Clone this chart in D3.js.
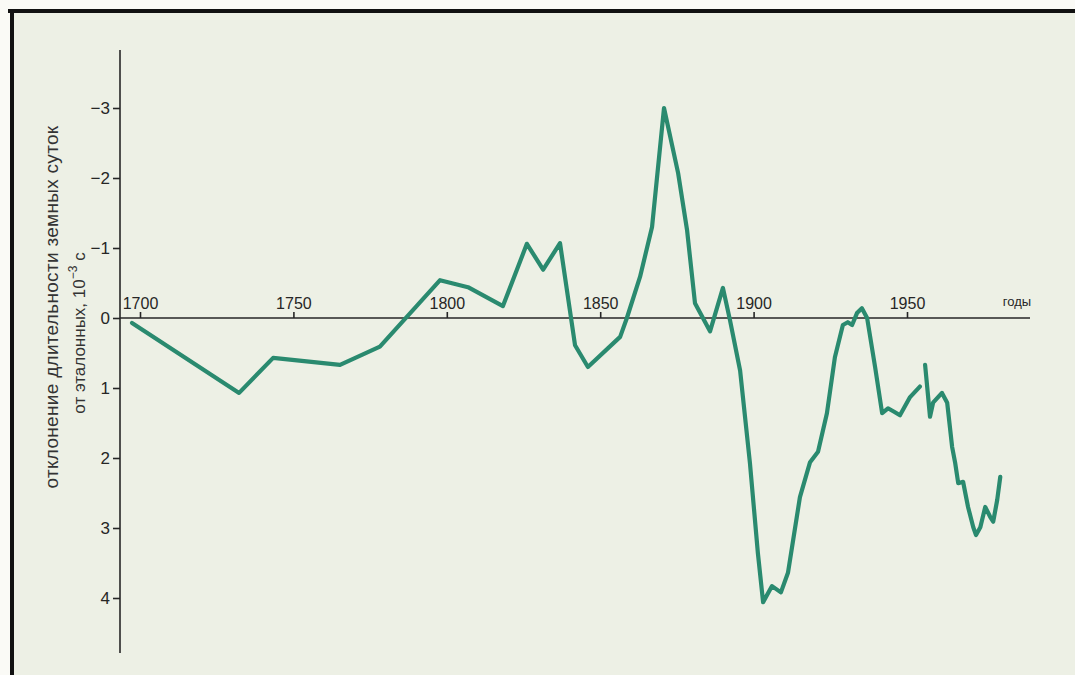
<!DOCTYPE html>
<html>
<head>
<meta charset="utf-8">
<script src="https://cdn.jsdelivr.net/npm/d3@7"></script>
<style>
  html, body { margin: 0; padding: 0; background: #fafaf6; }
  svg { display: block; }
  .tick text { font-family: "Liberation Sans", Arial, sans-serif; fill: #262626; }
</style>
</head>
<body>
<svg id="chart" width="1075" height="675"></svg>
<script>
// Deviation of the length of day from the standard, 10^-3 s (astronomical record)
const years1 = [1697.4, 1732.3, 1743.4, 1765.2, 1778.2, 1797.8, 1806.9, 1818.3, 1826.1, 1831.4,
                1836.9, 1841.8, 1846.0, 1856.5, 1858.7, 1863.0, 1866.9, 1870.8, 1875.4, 1878.3,
                1880.9, 1885.8, 1890.0, 1892.3, 1895.6, 1898.8, 1901.4, 1903.1, 1906.0, 1908.9,
                1911.2, 1915.1, 1918.4, 1921.0, 1923.9, 1926.5, 1929.1, 1930.7, 1932.1, 1933.7,
                1935.3, 1937.0, 1939.6, 1941.9, 1943.8, 1945.8, 1947.7, 1951.0, 1954.2];
const values1 = [0.07, 1.07, 0.57, 0.67, 0.41, -0.54, -0.44, -0.17, -1.06, -0.69,
                 -1.07, 0.39, 0.70, 0.27, 0.0, -0.59, -1.30, -3.0, -2.07, -1.26,
                 -0.21, 0.19, -0.43, 0.03, 0.75, 2.07, 3.36, 4.06, 3.83, 3.92,
                 3.64, 2.56, 2.06, 1.91, 1.36, 0.56, 0.10, 0.06, 0.10, -0.07,
                 -0.14, 0.0, 0.70, 1.36, 1.29, 1.34, 1.39, 1.13, 0.98];

// Later record (atomic time)
const years2 = [1955.9, 1957.5, 1958.5, 1961.4, 1963.1, 1964.7, 1965.7, 1966.7, 1968.3, 1969.0,
                1969.9, 1971.6, 1972.5, 1973.9, 1975.5, 1977.1, 1978.1, 1979.4, 1980.4];
const values2 = [0.67, 1.41, 1.21, 1.07, 1.21, 1.84, 2.07, 2.36, 2.34, 2.50,
                 2.70, 2.99, 3.10, 2.99, 2.70, 2.84, 2.91, 2.60, 2.27];

const xTicks = [1700, 1750, 1800, 1850, 1900, 1950];
const yTicks = [-3, -2, -1, 0, 1, 2, 3, 4];

const svg = d3.select("#chart");
const W = 1075, H = 675;

// page and frame
svg.append("rect").attr("x", 0).attr("y", 0).attr("width", W).attr("height", H).attr("fill", "#fafaf6");
svg.append("rect").attr("x", 12).attr("y", 11).attr("width", W - 12).attr("height", H - 11).attr("fill", "#edf0e5");
svg.append("line").attr("x1", 8).attr("x2", W).attr("y1", 11).attr("y2", 11)
   .attr("stroke", "#111").attr("stroke-width", 4);
svg.append("line").attr("x1", 12).attr("x2", 12).attr("y1", 9).attr("y2", H)
   .attr("stroke", "#111").attr("stroke-width", 4);

const x = d3.scaleLinear().domain([1700, 1950]).range([140, 907]);
const y = d3.scaleLinear().domain([-3, 4]).range([108, 598]);

const axisColor = "#262626";
const x0 = 120;            // vertical axis position
const yTop = 50, yBottom = 653, xEnd = 1030;

// vertical axis
svg.append("line").attr("x1", x0).attr("x2", x0).attr("y1", yTop).attr("y2", yBottom)
   .attr("stroke", axisColor).attr("stroke-width", 1.6);
const gy = svg.append("g").attr("transform", `translate(${x0},0)`)
  .call(d3.axisLeft(y).tickValues(yTicks).tickSize(7).tickPadding(3).tickFormat(d3.format("d")));
gy.select(".domain").remove();
gy.selectAll(".tick line").attr("stroke", axisColor).attr("stroke-width", 1.6);
gy.selectAll(".tick text").style("font-size", "17px");

// horizontal axis at zero
svg.append("line").attr("x1", x0).attr("x2", xEnd).attr("y1", y(0)).attr("y2", y(0))
   .attr("stroke", axisColor).attr("stroke-width", 1.6);
const gx = svg.append("g").attr("transform", `translate(0,${y(0)})`)
  .call(d3.axisTop(x).tickValues(xTicks).tickSize(6).tickPadding(3).tickFormat(d3.format("d")));
gx.select(".domain").remove();
gx.selectAll(".tick line").attr("stroke", axisColor).attr("stroke-width", 1.6);
gx.selectAll(".tick text").style("font-size", "16px");

svg.append("text").attr("x", 1017).attr("y", y(0) - 12).attr("text-anchor", "middle")
   .style("font-family", "'Liberation Sans', Arial, sans-serif").style("font-size", "13px")
   .attr("fill", axisColor).text("годы");

// vertical axis title (two lines)
const title = svg.append("g").style("font-family", "'Liberation Sans', Arial, sans-serif").attr("fill", "#333");
title.append("text").attr("transform", "translate(58,307) rotate(-90)").attr("text-anchor", "middle")
  .style("font-size", "19px").style("letter-spacing", "0.3px").text("отклонение длительности земных суток");
const t2 = title.append("text").attr("transform", "translate(85,333) rotate(-90)").attr("text-anchor", "middle")
  .style("font-size", "17px");
t2.append("tspan").text("от эталонных, 10");
t2.append("tspan").attr("dy", -8).style("font-size", "12px").text("−3");
t2.append("tspan").attr("dy", 8).text(" с");

// curves
const line = d3.line().x(d => x(d[0])).y(d => y(d[1])).curve(d3.curveLinear);
const series = [d3.zip(years1, values1), d3.zip(years2, values2)];
svg.append("g").selectAll("path").data(series).join("path")
  .attr("d", line)
  .attr("fill", "none")
  .attr("stroke", "#2a8a6f")
  .attr("stroke-width", 4.2)
  .attr("stroke-linejoin", "round")
  .attr("stroke-linecap", "round");
</script>
</body>
</html>
